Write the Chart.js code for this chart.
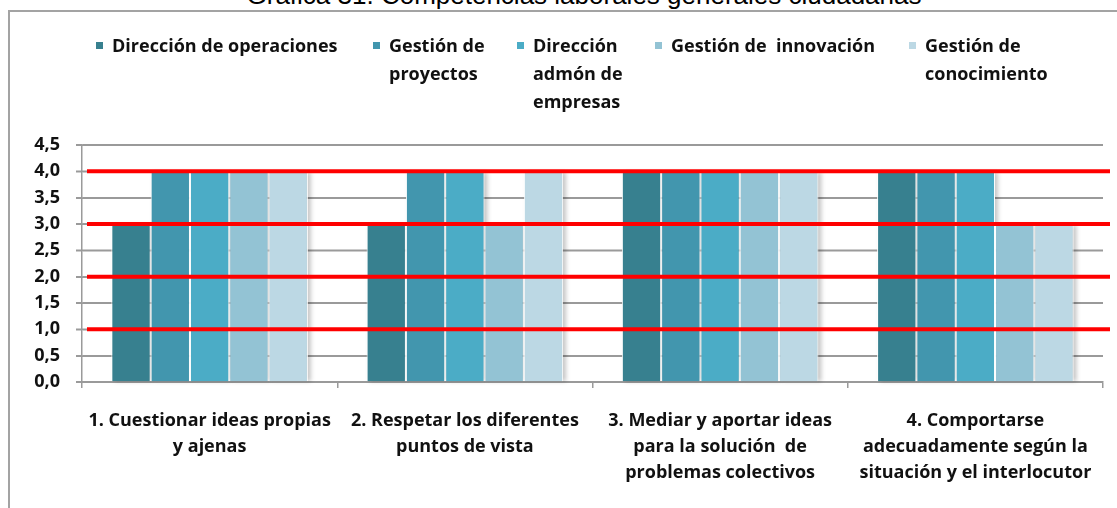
<!DOCTYPE html>
<html lang="es">
<head>
<meta charset="utf-8">
<title>Gráfica 31</title>
<script src="https://cdn.jsdelivr.net/npm/chart.js@4.4.1/dist/chart.umd.min.js"></script>
<style>
  html, body { margin: 0; padding: 0; background: #fff; }
  body { width: 1117px; height: 508px; position: relative; overflow: hidden; }
  #title {
    position: absolute; left: 0; width: 1168px; top: -18px;
    text-align: center; white-space: nowrap; color: #000;
    font: 26px/26px "Liberation Sans", Arial, sans-serif;
  }
  #frame {
    position: absolute; left: 8px; top: 10px; right: -20px; bottom: -20px;
    border-left: 2px solid #a3a3a3; border-top: 2px solid #a3a3a3;
  }
  #chartBox { position: absolute; left: 0; top: 0; width: 1117px; height: 508px; }
  .legend-item {
    position: absolute; top: 31px;
    font: bold 18px/28px "Open Sans", sans-serif; color: #111;
    white-space: nowrap;
  }
  .legend-item .swatch {
    position: absolute; left: 0; top: 11px; width: 7px; height: 7px;
  }
  .legend-item .text { margin-left: 16px; }
</style>
</head>
<body>
<div id="title">Gráfica 31. Competencias laborales generales ciudadanas</div>
<div id="frame"></div>
<div id="chartBox"><canvas id="competenciasChart"></canvas></div>
<div id="legend"></div>

<script>
// datos
const categories = [
  ['1. Cuestionar ideas propias', 'y ajenas'],
  ['2. Respetar los diferentes', 'puntos de vista'],
  ['3. Mediar y aportar ideas', 'para la solución  de', 'problemas colectivos'],
  ['4. Comportarse', 'adecuadamente según la', 'situación y el interlocutor']
];

const seriesNames = [
  ['Dirección de operaciones'],
  ['Gestión de', 'proyectos'],
  ['Dirección', 'admón de', 'empresas'],
  ['Gestión de  innovación'],
  ['Gestión de', 'conocimiento']
];

const direccionOperaciones = [3, 3, 4, 4];
const gestionProyectos = [4, 4, 4, 4];
const direccionEmpresas = [4, 4, 4, 4];
const gestionInnovacion = [4, 3, 4, 3];
const gestionConocimiento = [4, 4, 4, 3];

const yTicks = [0, 0.5, 1, 1.5, 2, 2.5, 3, 3.5, 4, 4.5];
const redLines = [1, 2, 3, 4];

// estilos
const seriesColors = ['#37808f', '#4296ae', '#4bacc6', '#93c3d4', '#bcd8e4'];
const legendLeft = [96, 373, 517, 655, 909];
const gridGray = '#9a9a9a';
const labelFont = { family: 'Open Sans', weight: 'bold', size: 18, lineHeight: 26 / 18 };

const seriesValues = [
  direccionOperaciones, gestionProyectos, direccionEmpresas,
  gestionInnovacion, gestionConocimiento
];

// leyenda en HTML (las etiquetas van partidas en varias líneas)
const legendEl = document.getElementById('legend');
seriesNames.forEach((lines, i) => {
  const item = document.createElement('div');
  item.className = 'legend-item';
  item.style.left = legendLeft[i] + 'px';
  item.innerHTML = '<span class="swatch" style="background:' + seriesColors[i] + '"></span>' +
    '<div class="text">' + lines.join('<br>').replace(/  /g, ' &nbsp;') + '</div>';
  legendEl.appendChild(item);
});

// líneas horizontales grises + marcas del eje Y, detrás de las barras
const yGridPlugin = {
  id: 'yGrid',
  beforeDatasetsDraw(chart) {
    const { ctx, chartArea, scales: { y } } = chart;
    ctx.save();
    ctx.strokeStyle = gridGray;
    ctx.lineWidth = 1.5;
    y.ticks.forEach(t => {
      const py = Math.round(y.getPixelForValue(t.value)) + 0.25;
      ctx.beginPath();
      ctx.moveTo(chartArea.left - 6, py);
      ctx.lineTo(chartArea.right, py);
      ctx.stroke();
    });
    ctx.restore();
  }
};

// sombra suave a la derecha de las barras, como en Excel
const barShadowPlugin = {
  id: 'barShadow',
  beforeDatasetsDraw(chart) {
    const { ctx } = chart;
    ctx.save();
    ctx.filter = 'blur(2px)';
    ctx.fillStyle = 'rgba(0,0,0,0.22)';
    chart.data.datasets.forEach((ds, i) => {
      chart.getDatasetMeta(i).data.forEach(bar => {
        const p = bar.getProps(['x', 'y', 'base', 'width'], true);
        ctx.fillRect(p.x - p.width / 2 + 3, p.y + 1, p.width, p.base - p.y - 1);
      });
    });
    ctx.restore();
  }
};

const redLinePlugin = {
  id: 'redLines',
  afterDatasetsDraw(chart) {
    const { ctx, chartArea, scales: { y } } = chart;
    ctx.save();
    ctx.strokeStyle = '#ff0000';
    ctx.lineWidth = 4;
    redLines.forEach(v => {
      const py = y.getPixelForValue(v);
      ctx.beginPath();
      ctx.moveTo(chartArea.left + 5, py);
      ctx.lineTo(chartArea.right + 7, py);
      ctx.stroke();
    });
    ctx.restore();
  }
};

const data = {
  labels: categories,
  datasets: seriesValues.map((values, i) => ({
    label: seriesNames[i].join(' '),
    data: values,
    backgroundColor: seriesColors[i],
    borderColor: '#ffffff',
    borderWidth: { left: 1, right: 1, top: 0, bottom: 0 },
    borderSkipped: false,
    categoryPercentage: 0.77,
    barPercentage: 1.0
  }))
};

const config = {
  type: 'bar',
  data,
  plugins: [yGridPlugin, barShadowPlugin, redLinePlugin],
  options: {
    responsive: true,
    maintainAspectRatio: false,
    animation: false,
    layout: { padding: { top: 145, right: 14, bottom: 0, left: 0 } },
    plugins: {
      legend: { display: false },
      tooltip: { enabled: false },
      title: { display: false }
    },
    scales: {
      x: {
        grid: { drawOnChartArea: false, offset: true, tickLength: 6, color: gridGray, lineWidth: 1.5 },
        border: { color: gridGray, width: 1.5 },
        ticks: { font: labelFont, color: '#111', padding: 20, maxRotation: 0, autoSkip: false },
        afterFit: (scale) => { scale.height = 126; }
      },
      y: {
        min: yTicks[0],
        max: yTicks[yTicks.length - 1],
        ticks: {
          stepSize: yTicks[1] - yTicks[0],
          font: labelFont,
          color: '#111',
          padding: 16,
          autoSkip: false,
          callback: (v) => Number(v).toFixed(1).replace('.', ',')
        },
        grid: { color: gridGray, lineWidth: 1.5, tickLength: 6 },
        border: { color: gridGray, width: 1.5 },
        afterFit: (scale) => { scale.width = 82; }
      }
    }
  }
};

const canvas = document.getElementById('competenciasChart');
if (!canvas) {
  console.error('competenciasChart canvas not found');
} else {
  new Chart(canvas.getContext('2d'), config);
}
</script>
</body>
</html>
